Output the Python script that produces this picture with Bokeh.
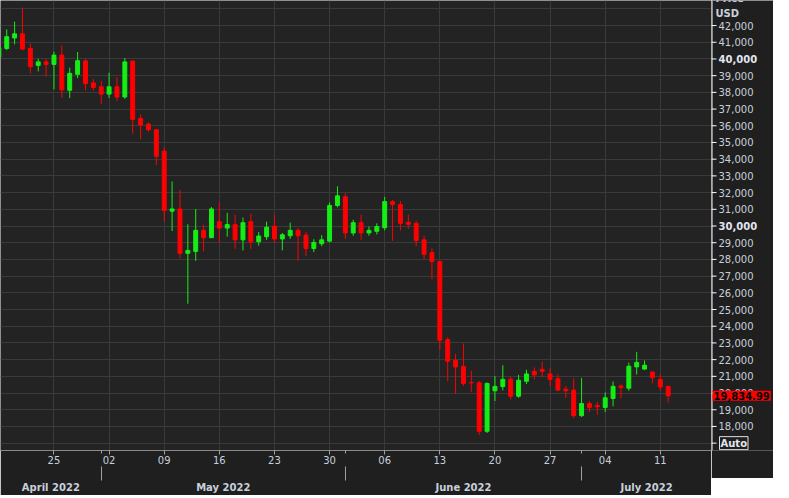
import pandas as pd
from bokeh.plotting import figure
from bokeh.layouts import row
from bokeh.models import (Range1d, FixedTicker, DatetimeTickFormatter, LinearAxis, Label,
                          ColumnDataSource, Grid, Span)
from bokeh.core.properties import value
from bokeh.embed import file_html
from bokeh.resources import INLINE

# ---------------- data (daily BTC/USD candles) ----------------
first_day = "2022-04-18"
opens = [40110, 40630, 41260, 41505, 40630, 39615, 39825, 39675, 40230, 38125,
         39080, 39885, 38565, 38335, 37895, 38335, 37725, 39865, 36430, 36100,
         35760, 34480, 30890, 31020, 28365, 28480, 29740, 29300, 30260, 29875,
         30085, 29170, 30260, 29055, 29360, 29990, 29225, 29415, 29740, 29455,
         28655, 28940, 29095, 31230, 31750, 29585, 30200, 29585, 29685, 29895,
         31460, 31290, 30220, 30160, 29170, 28405, 27870, 23210, 21965, 21590,
         20630, 20615, 17710, 20135, 20385, 20820, 19810, 20705, 21300, 21415,
         21145, 20860, 20230, 20175, 18645, 19370, 19255, 19140, 19675, 20420,
         20290, 21565, 21435, 21260, 20805, 20400]
highs = [40900, 41775, 42235, 43075, 40915, 40015, 40015, 40440, 40820, 39480,
         40415, 40000, 38795, 38680, 39180, 38910, 40055, 39940, 36675, 36200,
         35815, 34710, 32665, 32165, 30105, 31020, 30085, 31135, 31445, 30790,
         30660, 30505, 30735, 29645, 30260, 30660, 29585, 30200, 29875, 29630,
         29210, 29455, 31405, 32380, 31960, 30370, 30675, 29970, 30160, 31750,
         31560, 31500, 30675, 30315, 29415, 28655, 27925, 23340, 22350, 22965,
         21335, 20730, 20630, 21015, 21665, 20960, 21090, 21395, 21530, 21875,
         21490, 21145, 20420, 20880, 20900, 19505, 19465, 20040, 20690, 20515,
         21820, 22465, 21950, 21260, 21145, 20400]
lows = [39700, 40530, 40875, 40530, 39140, 39255, 38965, 38180, 37665, 37665,
        38855, 38110, 38110, 37325, 37665, 37480, 37610, 35530, 35185, 35660,
        33655, 30260, 29700, 28065, 25345, 27910, 28480, 29300, 29015, 29360,
        28635, 28540, 28635, 28825, 29170, 28980, 28540, 29225, 27910, 28210,
        28440, 28785, 29015, 31115, 29225, 29415, 29170, 29415, 29495, 29740,
        29110, 29740, 29840, 28785, 28025, 26820, 22580, 20705, 19960, 20420,
        20060, 17480, 17610, 19525, 20155, 19615, 19715, 20535, 20820, 20960,
        20420, 20135, 19715, 18510, 18570, 18855, 18700, 18855, 19200, 19675,
        20135, 21110, 21375, 20575, 20155, 19430]
closes = [40670, 41335, 41505, 40590, 39540, 39825, 39675, 40230, 38150, 39140,
          39900, 38525, 38295, 37895, 38335, 37725, 39825, 36390, 36045, 35760,
          34170, 30930, 31020, 28365, 28540, 29740, 29300, 31020, 29875, 30085,
          29170, 30200, 29055, 29400, 29930, 29225, 29475, 29740, 29415, 28655,
          29015, 29170, 31230, 31805, 29585, 30200, 29585, 29740, 29970, 31460,
          31290, 30160, 30105, 29130, 28310, 27870, 23155, 21910, 21565, 20575,
          20610, 17710, 20575, 20400, 20820, 19810, 20765, 21145, 21090, 21300,
          20820, 20175, 20135, 18645, 19370, 19140, 19180, 19715, 20400, 20330,
          21605, 21835, 21665, 20935, 20360, 19834.99]
last_price = 19834.99
last_price_text = "19,834.99"

week_ticks = ["2022-04-25", "2022-05-02", "2022-05-09", "2022-05-16", "2022-05-23", "2022-05-30",
              "2022-06-06", "2022-06-13", "2022-06-20", "2022-06-27", "2022-07-04", "2022-07-11"]
month_starts = ["2022-05-01", "2022-06-01", "2022-07-01"]
month_labels = ["April 2022", "May 2022", "June 2022", "July 2022"]
price_ticks = list(range(17000, 42001, 1000))
grid_prices = list(range(17000, 43001, 1000))
bold_prices = [30000, 40000]
axis_title = ["Price", "USD"]
auto_text = "Auto"

# ---------------- helpers / styles ----------------
DAY = 86400000
EPOCH = pd.Timestamp("1970-01-01")


def ms(t):
    return int((pd.Timestamp(t) - EPOCH) / pd.Timedelta(milliseconds=1))


FONT = "DejaVu Sans"
TXT = "#c8d0dc"
TXT_BRIGHT = "#e2e7ef"
GRID = "#3a3a3a"
GREEN = "#14ee14"
RED = "#ff0000"
FRAME_BG = "#232323"
BORDER_BG = "#1f1f1f"

FW, FH = 711, 450       # chart frame
AW = 62                 # right price-axis column

dates = pd.date_range(first_day, periods=len(opens), freq="D")
xs = [ms(d) for d in dates]
colors = [GREEN if c >= o else RED for o, c in zip(opens, closes)]
src = ColumnDataSource(dict(
    x=xs, open=opens, high=highs, low=lows, close=closes,
    top=[max(o, c) for o, c in zip(opens, closes)],
    bottom=[min(o, c) for o, c in zip(opens, closes)],
    color=colors,
))

x_start = xs[0] + 0.21 * DAY
x_end = xs[0] + 90.5 * DAY
y_range = Range1d(16560, 43500)

# ---------------- main chart ----------------
p = figure(frame_width=FW, frame_height=FH, x_range=Range1d(x_start, x_end), y_range=y_range,
           y_axis_location=None, output_backend="svg", toolbar_location=None,
           min_border_left=0, min_border_top=0, min_border_right=0, min_border_bottom=0,
           background_fill_color=FRAME_BG, border_fill_color=BORDER_BG, outline_line_color=None)

p.add_layout(Grid(dimension=1, ticker=FixedTicker(ticks=grid_prices), grid_line_color=GRID))

p.segment(x0="x", y0="low", x1="x", y1="high", line_color="color", line_width=1, source=src)
p.vbar(x="x", width=0.5 * DAY, top="top", bottom="bottom", fill_color="color",
       line_color="color", line_width=1, source=src)

week_ms = [ms(t) for t in week_ticks]
mstart_ms = [ms(t) for t in month_starts]
xt = FixedTicker(ticks=week_ms, minor_ticks=mstart_ms)
xa = p.xaxis[0]
xa.ticker = xt
xa.formatter = DatetimeTickFormatter(days="%d", months="%d", years="%d", hours="%d", hourmin="%d",
                                     minutes="%d", minsec="%d", seconds="%d", milliseconds="%d",
                                     microseconds="%d")
xa.axis_line_color = "#8a8a8a"
xa.major_tick_line_color = "#a0a0a0"
xa.major_tick_out = 4
xa.major_tick_in = 0
xa.minor_tick_line_color = "#a0a0a0"
xa.minor_tick_out = 3
xa.minor_tick_in = 0
xa.major_label_standoff = 1
xa.major_label_text_font = FONT
xa.major_label_text_font_size = "10px"
xa.major_label_text_color = TXT
p.xgrid.ticker = xt
p.xgrid.grid_line_color = GRID

bounds = [x_start] + mstart_ms + [x_end]
centers = [int((a + b) / 2) for a, b in zip(bounds[:-1], bounds[1:])]
ma = LinearAxis(ticker=FixedTicker(ticks=centers, minor_ticks=mstart_ms),
                major_label_overrides=dict(zip(centers, month_labels)))
ma.axis_line_color = None
ma.major_tick_line_color = None
ma.major_tick_out = 0
ma.major_tick_in = 0
ma.minor_tick_line_color = "#a0a0a0"
ma.minor_tick_out = 14
ma.minor_tick_in = 0
ma.major_label_standoff = 1
ma.major_label_text_font = FONT
ma.major_label_text_font_size = "10px"
ma.major_label_text_font_style = "bold"
ma.major_label_text_color = TXT
p.add_layout(ma, "below")

# ---------------- price axis column (shares the y scale) ----------------
q = figure(frame_width=AW, frame_height=FH, x_range=Range1d(0, AW), y_range=y_range,
           x_axis_location=None, y_axis_location=None, output_backend="svg", toolbar_location=None,
           min_border_left=0, min_border_top=0, min_border_right=0, min_border_bottom=28,
           background_fill_color=BORDER_BG, border_fill_color=BORDER_BG, outline_line_color=None)
q.xgrid.visible = False
q.ygrid.visible = False

q.add_layout(Span(location=0.5, dimension="height", line_color="white", line_width=1))
q.segment(x0=0, x1=5, y0=price_ticks, y1=price_ticks, line_color="white", line_width=1)

normal = [t for t in price_ticks if t not in bold_prices and t != price_ticks[0]]
q.text(x=7, y=normal, text=[f"{t:,}" for t in normal], text_font=value(FONT),
       text_font_size="10px", text_color=TXT, text_align="left", text_baseline="middle")
q.text(x=7, y=bold_prices, text=[f"{t:,}" for t in bold_prices], text_font=value(FONT),
       text_font_size="10px", text_font_style="bold", text_color=TXT_BRIGHT,
       text_align="left", text_baseline="middle")

q.add_layout(Label(x=4, y=43640, text=axis_title[0], text_font=FONT, text_font_size="10px",
                   text_font_style="bold", text_color=TXT, text_align="left", text_baseline="middle"))
q.add_layout(Label(x=4, y=42740, text=axis_title[1], text_font=FONT, text_font_size="10px",
                   text_font_style="bold", text_color=TXT, text_align="left", text_baseline="middle"))

q.add_layout(Label(x=1, y=last_price, text=last_price_text, text_font=FONT, text_font_size="10px",
                   text_font_style="bold", text_color="black", text_align="left",
                   text_baseline="middle", background_fill_color=RED, padding=1))

q.add_layout(Label(x=8, y=price_ticks[0], text=auto_text, text_font=FONT, text_font_size="10px",
                   text_font_style="bold", text_color=TXT_BRIGHT, text_align="left",
                   text_baseline="middle", border_line_color="#e0e0e0", border_line_width=1,
                   padding=1))

layout = row(p, q, spacing=0)
open("out.html", "w").write(file_html(layout, INLINE))
